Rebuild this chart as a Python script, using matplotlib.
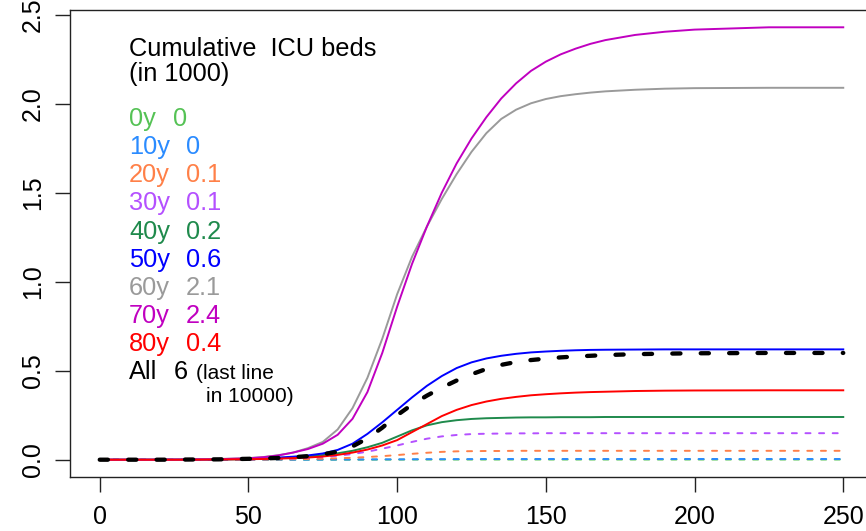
import matplotlib
matplotlib.use("Agg")
import matplotlib.pyplot as plt

plt.rcParams['font.family'] = ['Liberation Sans', 'DejaVu Sans']

days = [0, 10, 20, 30, 40, 50, 55, 60, 65, 70, 75, 80, 85, 90, 95, 100, 105, 110,
        115, 120, 125, 130, 135, 140, 145, 150, 155, 160, 165, 170, 180, 190, 200,
        225, 250]

# cumulative ICU beds (in 1000), per age group
y0 = [0, 0, 0, 0, 0, 0, 0, 0, 0, 0, 0, 0, 0, 0.0005, 0.0005, 0.0005, 0.001, 0.001,
      0.001, 0.001, 0.001, 0.001, 0.001, 0.001, 0.001, 0.001, 0.001, 0.001, 0.001,
      0.001, 0.001, 0.001, 0.001, 0.001, 0.001]
y10 = [0, 0, 0, 0, 0, 0, 0, 0, 0, 0.0005, 0.0005, 0.001, 0.001, 0.0015, 0.002, 0.002,
       0.0025, 0.003, 0.003, 0.0035, 0.0035, 0.004, 0.004, 0.004, 0.004, 0.004, 0.004,
       0.004, 0.004, 0.004, 0.004, 0.004, 0.004, 0.004, 0.004]
y20 = [0, 0, 0, 0, 0, 0.001, 0.001, 0.002, 0.003, 0.004, 0.006, 0.008, 0.011, 0.015,
       0.02, 0.026, 0.033, 0.039, 0.044, 0.047, 0.048, 0.049, 0.049, 0.05, 0.05, 0.05,
       0.05, 0.05, 0.05, 0.05, 0.05, 0.05, 0.05, 0.05, 0.05]
y30 = [0, 0, 0, 0, 0.001, 0.002, 0.003, 0.005, 0.007, 0.01, 0.015, 0.022, 0.032, 0.045,
       0.062, 0.08, 0.1, 0.118, 0.131, 0.139, 0.144, 0.146, 0.147, 0.148, 0.148, 0.149,
       0.149, 0.149, 0.149, 0.149, 0.149, 0.149, 0.149, 0.149, 0.149]
y40 = [0, 0, 0, 0, 0.001, 0.003, 0.005, 0.008, 0.012, 0.018, 0.026, 0.036, 0.05, 0.07,
       0.095, 0.13, 0.165, 0.193, 0.211, 0.222, 0.229, 0.233, 0.235, 0.237, 0.238, 0.238,
       0.239, 0.239, 0.239, 0.24, 0.24, 0.24, 0.24, 0.24, 0.24]
y50 = [0, 0, 0, 0.001, 0.002, 0.005, 0.008, 0.012, 0.017, 0.024, 0.035, 0.055, 0.09,
       0.145, 0.21, 0.28, 0.35, 0.415, 0.47, 0.515, 0.547, 0.569, 0.584, 0.595, 0.603,
       0.608, 0.612, 0.615, 0.617, 0.618, 0.619, 0.62, 0.62, 0.62, 0.62]
y60 = [0, 0, 0, 0.001, 0.004, 0.009, 0.015, 0.025, 0.04, 0.065, 0.10, 0.17, 0.29, 0.46,
       0.68, 0.93, 1.14, 1.31, 1.465, 1.605, 1.73, 1.835, 1.915, 1.967, 2.003, 2.027,
       2.043, 2.054, 2.063, 2.07, 2.079, 2.085, 2.088, 2.09, 2.09]
y70 = [0, 0, 0, 0.001, 0.003, 0.008, 0.014, 0.024, 0.04, 0.06, 0.09, 0.14, 0.23, 0.38,
       0.60, 0.86, 1.10, 1.31, 1.50, 1.665, 1.805, 1.925, 2.03, 2.115, 2.185, 2.237,
       2.278, 2.31, 2.337, 2.358, 2.387, 2.405, 2.417, 2.43, 2.43]
y80 = [0, 0, 0, 0, 0.001, 0.003, 0.004, 0.006, 0.009, 0.012, 0.018, 0.027, 0.04, 0.057,
       0.08, 0.11, 0.155, 0.2, 0.245, 0.28, 0.307, 0.327, 0.342, 0.353, 0.362, 0.368,
       0.373, 0.377, 0.38, 0.382, 0.386, 0.388, 0.389, 0.39, 0.39]
# all ages (in 10000)
yall = [0, 0, 0, 0.001, 0.002, 0.005, 0.007, 0.01, 0.014, 0.02, 0.03, 0.045, 0.075,
        0.12, 0.18, 0.25, 0.31, 0.36, 0.405, 0.445, 0.48, 0.51, 0.533, 0.549, 0.56,
        0.568, 0.575, 0.58, 0.584, 0.588, 0.593, 0.596, 0.598, 0.6, 0.6]

ages = ["0y", "10y", "20y", "30y", "40y", "50y", "60y", "70y", "80y"]
totals = ["0", "0", "0.1", "0.1", "0.2", "0.6", "2.1", "2.4", "0.4"]
series = [y0, y10, y20, y30, y40, y50, y60, y70, y80]
colors = ["#55C255", "#2A8BFF", "#FF8048", "#B450FF", "#1F8A4C", "#0000FF",
          "#9A9A9A", "#C000C0", "#FF0000"]
dashed = [True, True, True, True, False, False, False, False, False]

fig = plt.figure(figsize=(8.66, 5.31), dpi=100)
ax = fig.add_axes([70 / 866, 1 - 477 / 531, 803 / 866, 467 / 531])

for vals, col, d in zip(series, colors, dashed):
    if d:
        ax.plot(days, vals, color=col, lw=1.4, ls=(0, (2.6, 4.4)),
                dash_capstyle='round')
    else:
        ax.plot(days, vals, color=col, lw=1.4)
ax.plot(days, yall, color='black', lw=3.1, ls=(0, (1.9, 4.7)),
        dash_capstyle='round')

ax.set_xlim(-10, 260)
ax.set_ylim(-0.0972, 2.5272)
ax.set_xticks([0, 50, 100, 150, 200, 250])
ax.set_yticks([0.0, 0.5, 1.0, 1.5, 2.0, 2.5])
ax.set_yticklabels(["0.0", "0.5", "1.0", "1.5", "2.0", "2.5"])
ax.tick_params(axis='both', labelsize=18, length=11, width=1, color='#222222')
ax.tick_params(axis='x', pad=9)
ax.tick_params(axis='y', pad=7)
for lab in ax.get_yticklabels():
    lab.set_rotation(90)
    lab.set_va('center')
for s in ax.spines.values():
    s.set_color('#222222')
    s.set_linewidth(1)

# legend text block
x0 = 129 / 866
def fy(py):
    return 1 - py / 531

fs = 18.3
fig.text(x0, fy(55.5), "Cumulative  ICU beds", fontsize=fs, va='baseline')
fig.text(x0, fy(80.5), "(in 1000)", fontsize=fs, va='baseline')
base = 126.0
step = 28.15
for i, (a, t, c) in enumerate(zip(ages, totals, colors)):
    vx = 172.5 if len(a) == 2 else 186
    fig.text(x0, fy(base + i * step), a, fontsize=fs, color=c, va='baseline')
    fig.text(vx / 866, fy(base + i * step), t, fontsize=fs, color=c,
             va='baseline')
fig.text(x0, fy(base + 9 * step), "All", fontsize=fs, va='baseline')
fig.text(174 / 866, fy(base + 9 * step), "6", fontsize=fs, va='baseline')
fig.text(195.5 / 866, fy(base + 9 * step), "(last line", fontsize=15,
         va='baseline')
fig.text(206.5 / 866, fy(401.5), "in 10000)", fontsize=15, va='baseline')

fig.savefig("out.png", dpi=100)
